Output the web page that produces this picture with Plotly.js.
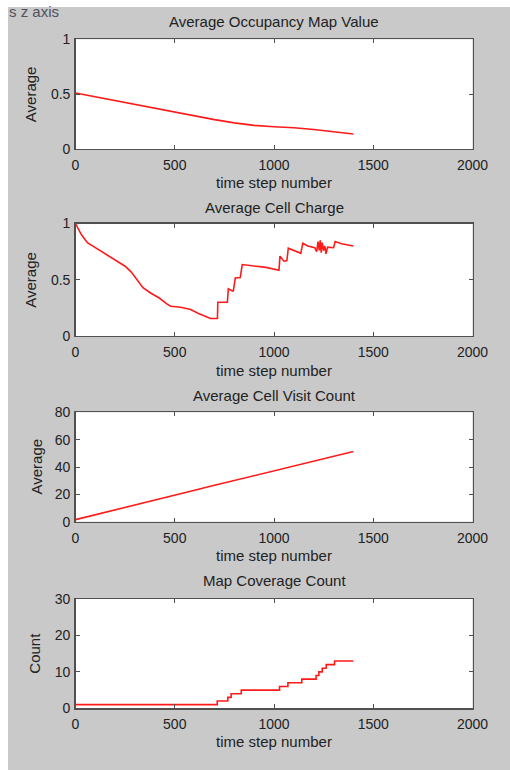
<!DOCTYPE html>
<html>
<head>
<meta charset="utf-8">
<script src="https://cdn.plot.ly/plotly-3.0.1.min.js"></script>
<style>
html,body{margin:0;padding:0;background:#ffffff;width:510px;height:770px;overflow:hidden;}
#chart{position:absolute;left:8px;top:0px;width:502px;height:770px;}
</style>
</head>
<body>
<div id="chart"></div>
<script>
// ---- data ----
const occX = [0,100,200,300,400,500,600,700,800,900,1000,1100,1200,1300,1400];
const occY = [0.51,0.475,0.44,0.405,0.37,0.335,0.30,0.268,0.238,0.215,0.203,0.194,0.178,0.158,0.137];

const chgX = [0,15,30,60,100,150,200,250,280,310,340,380,420,460,480,530,580,620,660,680,715,717,765,770,790,795,805,830,840,900,960,1025,1030,1050,1065,1072,1100,1135,1145,1170,1205,1215,1222,1228,1233,1238,1243,1250,1256,1262,1270,1300,1308,1340,1400];
const chgY = [1.0,0.95,0.90,0.83,0.785,0.73,0.68,0.62,0.57,0.50,0.43,0.38,0.34,0.285,0.265,0.255,0.235,0.20,0.17,0.155,0.155,0.30,0.30,0.42,0.40,0.40,0.515,0.52,0.635,0.625,0.61,0.585,0.71,0.665,0.67,0.78,0.76,0.735,0.825,0.80,0.785,0.75,0.84,0.76,0.85,0.74,0.83,0.76,0.80,0.73,0.79,0.785,0.84,0.82,0.80];

const visX = [0,100,200,300,400,500,600,700,800,900,1000,1100,1200,1300,1400];
const visY = [1.5,5,8.6,12.2,15.8,19.4,23,26.6,30.2,33.8,37.3,40.8,44.3,47.8,51.3];

const covX = [0,714,767,784,835,1028,1070,1140,1212,1226,1243,1263,1305,1400];
const covY = [1,2,3,4,5,6,7,8,9,10,11,12,13,13];

const xTicks = [0,500,1000,1500,2000];
const yTicks1 = [0,0.5,1];
const yTicks2 = [0,0.5,1];
const yTicks3 = [0,20,40,60,80];
const yTicks4 = [0,10,20,30];

const titles = ['Average Occupancy Map Value','Average Cell Charge','Average Cell Visit Count','Map Coverage Count'];
const yLabels = ['Average','Average','Average','Count'];
const xLabel = 'time step number';
const cornerText = 's z axis';

// ---- geometry (page pixels) ----
const W = 502, H = 770, OX = 8, OY = 0;
const fx = X => (X - OX) / W;
const fy = Y => 1 - (Y - OY) / H;
const L = 75.5, R = 472.5;
const boxes = [[39.3,149],[223.5,336],[412.3,521.7],[599,708.3]];
const titleY = [21.7,208,395,580];
const xlabY = [182.7,370,555,741.7];
const ylabX = [30,31,35.5,35];
const yRanges = [[0,1],[0,1],[0,80],[0,30]];
const yTickSets = [yTicks1,yTicks2,yTicks3,yTicks4];

const FONT = 'Liberation Sans, Arial, sans-serif';
const TXT = '#222222';
const AX = '#505050';
const RED = '#ff1a1a';

const series = [[occX,occY,'linear'],[chgX,chgY,'linear'],[visX,visY,'linear'],[covX,covY,'hv']];
const data = series.map((s,i) => ({
  x: s[0], y: s[1], type: 'scatter', mode: 'lines',
  line: {color: RED, width: 1.6, shape: s[2]},
  xaxis: i === 0 ? 'x' : 'x' + (i+1),
  yaxis: i === 0 ? 'y' : 'y' + (i+1),
  hoverinfo: 'skip'
}));

const layout = {
  width: W, height: H,
  margin: {l:0,r:0,t:0,b:0,pad:0},
  paper_bgcolor: '#c9c9c9',
  plot_bgcolor: '#ffffff',
  showlegend: false,
  font: {family: FONT, size: 14, color: TXT},
  annotations: [],
  shapes: [{
    type: 'rect', xref: 'paper', yref: 'paper', x0: 0, x1: 1, y0: fy(7), y1: 1,
    fillcolor: '#ffffff', line: {width: 0}, layer: 'below'
  }]
};

boxes.forEach((b,i) => {
  const sx = i === 0 ? '' : String(i+1);
  const common = {
    ticks: 'inside', ticklen: 4, tickwidth: 1, tickcolor: AX,
    showline: true, linecolor: AX, linewidth: 1.3, mirror: 'ticks',
    showgrid: false, zeroline: false, fixedrange: true,
    tickfont: {family: FONT, size: 14, color: TXT}
  };
  layout['xaxis' + sx] = Object.assign({}, common, {
    domain: [fx(L), fx(R)], range: [0,2000], tickmode: 'array', tickvals: xTicks,
    anchor: 'y' + sx, ticklabelstandoff: 3
  });
  layout['yaxis' + sx] = Object.assign({}, common, {
    domain: [fy(b[1]), fy(b[0])], range: yRanges[i], tickmode: 'array', tickvals: yTickSets[i],
    anchor: 'x' + sx, ticklabelstandoff: 1
  });
  layout.annotations.push({
    text: titles[i], xref: 'paper', yref: 'paper', x: fx((L+R)/2), y: fy(titleY[i]),
    xanchor: 'center', yanchor: 'middle', showarrow: false,
    font: {family: FONT, size: 15, color: TXT}
  });
  layout.annotations.push({
    text: xLabel, xref: 'paper', yref: 'paper', x: fx((L+R)/2), y: fy(xlabY[i]),
    xanchor: 'center', yanchor: 'middle', showarrow: false,
    font: {family: FONT, size: 15, color: TXT}
  });
  layout.annotations.push({
    text: yLabels[i], xref: 'paper', yref: 'paper', x: fx(ylabX[i]), y: fy((b[0]+b[1])/2),
    xanchor: 'center', yanchor: 'middle', showarrow: false, textangle: -90,
    font: {family: FONT, size: 15, color: TXT}
  });
});
layout.annotations.push({
  text: cornerText, xref: 'paper', yref: 'paper', x: fx(7), y: fy(11.5),
  xanchor: 'left', yanchor: 'middle', showarrow: false,
  font: {family: FONT, size: 15, color: '#505060'}
});

Plotly.newPlot('chart', data, layout, {displayModeBar: false, staticPlot: true});
</script>
</body>
</html>
